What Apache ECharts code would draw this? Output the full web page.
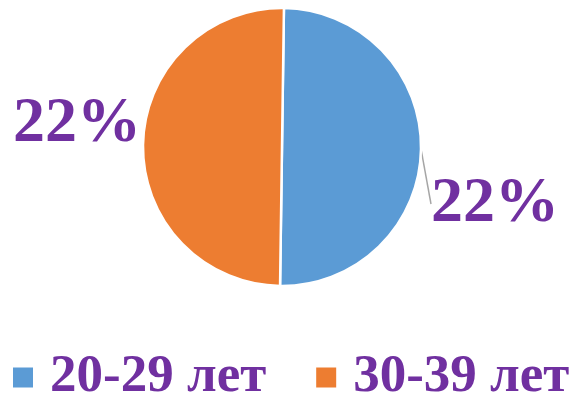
<!DOCTYPE html>
<html><head><meta charset="utf-8">
<script src="https://cdn.jsdelivr.net/npm/echarts@6/dist/echarts.min.js"></script>
<style>html,body{margin:0;padding:0;background:#fff}#c{width:577px;height:401px}</style>
</head><body><div id="c"></div>
<script>
var categories = ['20-29 лет', '30-39 лет'];
var values = [22, 22];
var labels = ['22%', '22%'];
var colors = ['#5B9BD5', '#ED7D31'];

var chart = echarts.init(document.getElementById('c'), null, {renderer: 'canvas'});
var fontFam = '"Liberation Serif", "Times New Roman", serif';
chart.setOption({
  animation: false,
  color: colors,
  legend: {
    top: 351,
    left: 11,
    width: 570,
    padding: 0,
    itemWidth: 22,
    itemHeight: 22,
    itemGap: 48,
    icon: 'rect',
    textStyle: {fontFamily: fontFam, fontWeight: 'bold', fontSize: 53, lineHeight: 53, color: '#7030A0', padding: [0, 0, 0, 11]},
    data: categories
  },
  series: [{
    type: 'pie',
    center: [282, 147],
    radius: 139,
    startAngle: 89.2,
    clockwise: true,
    itemStyle: {borderColor: '#fff', borderWidth: 2.5},
    label: {
      show: true,
      overflow: 'none',
      formatter: function (p) { return labels[p.dataIndex]; },
      fontFamily: fontFam, fontWeight: 'bold', fontSize: 64, color: '#7030A0'
    },
    labelLine: {show: true, lineStyle: {color: '#A6A6A6', width: 1.5}, length: 10, length2: 0},
    labelLayout: function (p) {
      if (p.dataIndex === 0) return {x: 431, y: 204, align: 'left', verticalAlign: 'middle', width: 200};
      return {x: 13, y: 124, align: 'left', verticalAlign: 'middle', width: 200};
    },
    data: categories.map(function (c, i) {
      return {name: c, value: values[i], labelLine: {show: i === 0}};
    })
  }]
});
</script></body></html>
